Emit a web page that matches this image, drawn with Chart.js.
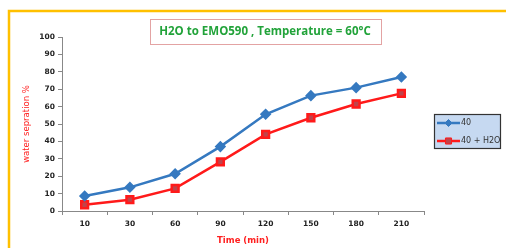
<!DOCTYPE html>
<html>
<head>
<meta charset="utf-8">
<script src="https://cdn.jsdelivr.net/npm/chart.js@4.4.0/dist/chart.umd.min.js"></script>
<style>
html,body{margin:0;padding:0;background:#fff}
#wrap{position:relative;width:506px;height:248px}
</style>
</head>
<body>
<div id="wrap"><canvas id="chart"></canvas></div>
<script>
// data
const times = ['10', '30', '60', '90', '120', '150', '180', '210'];
const series40 = [8.6, 13.6, 21.4, 37, 55.6, 66.3, 70.9, 77];
const series40H2O = [3.6, 6.5, 13, 28.2, 44, 53.6, 61.5, 67.6];
const seriesNames = ['40', '40 + H2O'];
const yTicks = [0, 10, 20, 30, 40, 50, 60, 70, 80, 90, 100];
const chartTitle = 'H2O to EMO590 , Temperature = 60°C';

const tickFont = {family: 'DejaVu Sans', size: 7.5, weight: 'bold'};

// frame, title box and legend box drawn around the chart
const decor = {
    id: 'decor',
    beforeDraw(chart) {
        const ctx = chart.ctx;
        ctx.save();
        ctx.strokeStyle = '#ffc000';
        ctx.lineWidth = 2.5;
        ctx.beginPath();
        ctx.moveTo(9, 248);
        ctx.lineTo(9, 11);
        ctx.lineTo(506, 11);
        ctx.stroke();
        ctx.restore();
    },
    afterDraw(chart) {
        const ctx = chart.ctx;
        ctx.save();
        // title box
        ctx.fillStyle = '#fff';
        ctx.fillRect(150.5, 19.5, 231, 25);
        ctx.strokeStyle = '#e3a3a3';
        ctx.lineWidth = 1;
        ctx.strokeRect(150.5, 19.5, 231, 25);
        ctx.fillStyle = '#22a33a';
        ctx.font = 'bold 11.5px "Open Sans"';
        ctx.textAlign = 'center';
        ctx.textBaseline = 'middle';
        ctx.fillText(chartTitle, 265, 32);

        // legend box
        ctx.fillStyle = '#c6d9f1';
        ctx.fillRect(434.5, 114.5, 66, 34);
        ctx.strokeStyle = '#333';
        ctx.lineWidth = 1.2;
        ctx.strokeRect(434.5, 114.5, 66, 34);
        chart.data.datasets.forEach((ds, i) => {
            const y = 123 + i * 18;
            ctx.strokeStyle = ds.borderColor;
            ctx.lineWidth = ds.borderWidth;
            ctx.beginPath();
            ctx.moveTo(437, y);
            ctx.lineTo(460, y);
            ctx.stroke();
            ctx.fillStyle = ds.pointBackgroundColor;
            ctx.strokeStyle = ds.pointBorderColor;
            ctx.lineWidth = 1;
            Chart.helpers.drawPoint(ctx, {pointStyle: ds.pointStyle, radius: ds.pointRadius - 0.5, rotation: 0, borderWidth: 1}, 448.5, y);
            ctx.fillStyle = '#333';
            ctx.font = '8px "DejaVu Sans"';
            ctx.textAlign = 'left';
            ctx.textBaseline = 'middle';
            ctx.fillText(ds.label, 461, y);
        });
        ctx.restore();
    }
};

new Chart(document.getElementById('chart'), {
    type: 'line',
    data: {
        labels: times,
        datasets: [{
            label: seriesNames[0],
            data: series40,
            borderColor: '#3579c0',
            borderWidth: 2.5,
            pointStyle: 'rectRot',
            pointRadius: 4,
            pointBackgroundColor: '#3579c0',
            pointBorderColor: '#3579c0',
            tension: 0
        }, {
            label: seriesNames[1],
            data: series40H2O,
            borderColor: '#ff1a1a',
            borderWidth: 2.5,
            pointStyle: 'rect',
            pointRadius: 4.8,
            pointBackgroundColor: '#c0434a',
            pointBorderColor: '#ff1a1a',
            tension: 0
        }]
    },
    options: {
        responsive: true,
        maintainAspectRatio: false,
        animation: false,
        layout: {padding: {left: 22, right: 82, top: 37, bottom: 0}},
        plugins: {legend: {display: false}, tooltip: {enabled: false}},
        scales: {
            x: {
                offset: true,
                grid: {display: true, drawOnChartArea: false, offset: true, tickLength: 4, color: '#888'},
                border: {color: '#888', width: 1},
                ticks: {font: tickFont, color: '#222', padding: 5},
                title: {display: true, text: 'Time (min)', color: '#ff2020',
                    font: {family: 'DejaVu Sans', size: 8.5, weight: 'bold'}, padding: {top: 0, bottom: 2}},
                afterFit(scale) { scale.height = 37; }
            },
            y: {
                min: 0,
                max: 100,
                afterBuildTicks(scale) { scale.ticks = yTicks.map(v => ({value: v})); },
                grid: {display: true, drawOnChartArea: false, tickLength: 4, color: '#888'},
                border: {color: '#888', width: 1},
                ticks: {font: tickFont, color: '#222', padding: 3},
                title: {display: true, text: 'water sepration %', color: '#ff2020',
                    font: {family: 'DejaVu Sans', size: 8.5}, padding: {top: 0, bottom: 0}},
                afterFit(scale) { scale.width = 40; }
            }
        }
    },
    plugins: [decor]
});
</script>
</body>
</html>
